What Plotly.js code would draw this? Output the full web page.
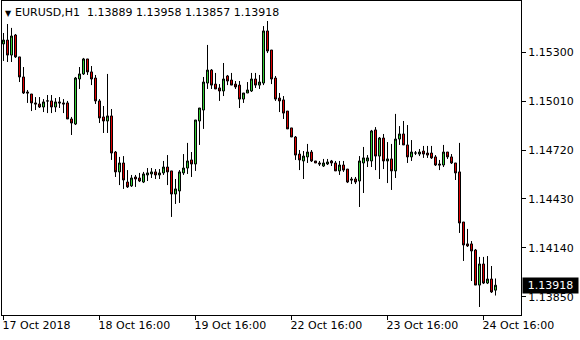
<!DOCTYPE html>
<html><head><meta charset="utf-8">
<script src="https://cdn.plot.ly/plotly-3.0.1.min.js"></script>
<style>html,body{margin:0;padding:0;background:#fff;} #chart{width:580px;height:340px;}</style>
</head><body><div id="chart"></div>
<script>
const symbol = 'EURUSD,H1';
const openP = [
1.15349,1.15372,1.15283,1.15402,1.15272,1.15153,1.15064,1.15052,1.14999,1.14993,
1.14975,1.15011,1.15011,1.14975,1.15005,1.14999,1.14999,1.14904,1.14874,1.15141,
1.15171,1.15260,1.15183,1.15147,1.15011,1.14916,1.14892,1.14922,1.14708,1.14590,
1.14643,1.14530,1.14507,1.14560,1.14554,1.14530,1.14572,1.14578,1.14590,1.14572,
1.14584,1.14619,1.14596,1.14459,1.14477,1.14584,1.14613,1.14661,1.14637,1.14892,
1.14957,1.15117,1.15194,1.15111,1.15088,1.15070,1.15159,1.15135,1.15111,1.15105,
1.15022,1.15058,1.15070,1.15141,1.15105,1.15117,1.15426,1.15313,1.15147,1.15028,
1.15017,1.14951,1.14851,1.14797,1.14696,1.14655,1.14679,1.14708,1.14655,1.14643,
1.14625,1.14637,1.14655,1.14643,1.14596,1.14631,1.14607,1.14548,1.14548,1.14536,
1.14643,1.14655,1.14655,1.14839,1.14684,1.14791,1.14655,1.14667,1.14596,1.14785,
1.14815,1.14750,1.14679,1.14702,1.14696,1.14714,1.14702,1.14702,1.14679,1.14637,
1.14631,1.14708,1.14679,1.14643,1.14590,1.14293,1.14163,1.14163,1.14127,1.13919,
1.14044,1.13931,1.13955,1.13889];
const highP = [
1.15414,1.15467,1.15444,1.15408,1.15272,1.15212,1.15076,1.15052,1.15034,1.15034,
1.15022,1.15046,1.15046,1.15028,1.15034,1.15022,1.15011,1.14916,1.15153,1.15212,
1.15266,1.15260,1.15218,1.15165,1.15022,1.14981,1.15171,1.14963,1.14714,1.14679,
1.14684,1.14601,1.14572,1.14572,1.14584,1.14590,1.14613,1.14613,1.14607,1.14607,
1.14655,1.14690,1.14596,1.14548,1.14601,1.14696,1.14762,1.14708,1.14898,1.14969,
1.15153,1.15343,1.15200,1.15177,1.15111,1.15236,1.15165,1.15177,1.15129,1.15129,
1.15058,1.15123,1.15177,1.15177,1.15165,1.15455,1.15485,1.15313,1.15159,1.15058,
1.15040,1.14951,1.14851,1.14803,1.14720,1.14714,1.14756,1.14720,1.14655,1.14655,
1.14667,1.14667,1.14661,1.14655,1.14655,1.14655,1.14607,1.14560,1.14560,1.14684,
1.14738,1.14690,1.14839,1.14856,1.14797,1.14815,1.14767,1.14756,1.14934,1.14862,
1.14892,1.14868,1.14779,1.14714,1.14726,1.14744,1.14744,1.14744,1.14690,1.14661,
1.14750,1.14708,1.14696,1.14643,1.14762,1.14293,1.14252,1.14180,1.14133,1.14086,
1.14086,1.14091,1.14032,1.13958];
const lowP = [
1.15248,1.15242,1.15242,1.15266,1.15123,1.15052,1.14999,1.14951,1.14957,1.14969,
1.14945,1.14939,1.14939,1.14945,1.14969,1.14939,1.14904,1.14809,1.14868,1.15082,
1.15165,1.15165,1.15105,1.14993,1.14880,1.14821,1.14821,1.14661,1.14560,1.14512,
1.14489,1.14495,1.14501,1.14501,1.14530,1.14524,1.14536,1.14554,1.14548,1.14548,
1.14572,1.14512,1.14323,1.14400,1.14406,1.14572,1.14578,1.14560,1.14596,1.14750,
1.14845,1.15082,1.15082,1.15082,1.15011,1.15040,1.15105,1.15105,1.15082,1.14969,
1.14999,1.15058,1.15064,1.15088,1.15082,1.15105,1.15295,1.15111,1.15011,1.14945,
1.14904,1.14845,1.14797,1.14661,1.14601,1.14548,1.14643,1.14649,1.14643,1.14625,
1.14619,1.14631,1.14625,1.14596,1.14572,1.14590,1.14524,1.14518,1.14518,1.14382,
1.14465,1.14619,1.14619,1.14601,1.14548,1.14607,1.14524,1.14483,1.14554,1.14750,
1.14750,1.14643,1.14655,1.14690,1.14684,1.14673,1.14673,1.14667,1.14625,1.14601,
1.14619,1.14667,1.14637,1.14542,1.14228,1.14062,1.14145,1.13943,1.13919,1.13789,
1.13925,1.13925,1.13872,1.13857];
const closeP = [
1.15372,1.15283,1.15396,1.15272,1.15153,1.15058,1.15058,1.14999,1.14993,1.14975,
1.15005,1.15011,1.14975,1.15005,1.14999,1.14993,1.14904,1.14880,1.15147,1.15171,
1.15260,1.15183,1.15141,1.15011,1.14910,1.14892,1.14922,1.14702,1.14590,1.14643,
1.14542,1.14501,1.14554,1.14548,1.14536,1.14578,1.14584,1.14590,1.14572,1.14584,
1.14619,1.14590,1.14459,1.14489,1.14590,1.14613,1.14655,1.14637,1.14898,1.14969,
1.15123,1.15194,1.15105,1.15082,1.15070,1.15141,1.15129,1.15105,1.15094,1.15022,
1.15058,1.15076,1.15141,1.15105,1.15123,1.15426,1.15307,1.15141,1.15022,1.15011,
1.14939,1.14845,1.14797,1.14690,1.14661,1.14684,1.14708,1.14655,1.14643,1.14637,
1.14643,1.14649,1.14643,1.14596,1.14631,1.14601,1.14530,1.14542,1.14530,1.14655,
1.14673,1.14673,1.14833,1.14684,1.14791,1.14655,1.14667,1.14596,1.14785,1.14815,
1.14750,1.14679,1.14708,1.14702,1.14708,1.14696,1.14690,1.14673,1.14631,1.14631,
1.14708,1.14679,1.14643,1.14584,1.14287,1.14157,1.14151,1.14121,1.13919,1.14044,
1.13931,1.13955,1.13878,1.13918];
const tickBars = [0, 24, 48, 72, 96, 120];
const tickLabels = ['17 Oct 2018','18 Oct 16:00','19 Oct 16:00','22 Oct 16:00','23 Oct 16:00','24 Oct 16:00'];
const priceTicks = [1.13850, 1.14140, 1.14430, 1.14720, 1.15010, 1.15300];

const bars = openP.map((_, i) => i);
const last = openP.length - 1;
const FONT = 'DejaVu Sans';

const trace = {
  type: 'candlestick',
  x: bars, open: openP, high: highP, low: lowP, close: closeP,
  increasing: {line: {color: '#000000', width: 1}, fillcolor: '#33cc33'},
  decreasing: {line: {color: '#000000', width: 1}, fillcolor: '#e00000'},
  whiskerwidth: 0,
  hoverinfo: 'none',
  showlegend: false
};

const layout = {
  width: 580, height: 340,
  margin: {l: 2, r: 59, t: 1, b: 25},
  paper_bgcolor: '#ffffff', plot_bgcolor: '#ffffff',
  font: {family: FONT, size: 11, color: '#000000'},
  showlegend: false,
  boxgap: 0.5, boxgroupgap: 0,
  xaxis: {
    type: 'linear', range: [-0.375, 129.375], fixedrange: true,
    rangeslider: {visible: false},
    showgrid: false, zeroline: false,
    showline: true, linecolor: '#000000', linewidth: 1, mirror: true,
    ticks: 'outside', ticklen: 4, tickcolor: '#000000', tickwidth: 1,
    tickmode: 'array', tickvals: tickBars, ticktext: tickLabels,
    ticklabelposition: 'outside right', ticklabelshift: -2,
    tickfont: {family: FONT, size: 11, color: '#000000'}
  },
  yaxis: {
    side: 'right', range: [1.137415, 1.156036], fixedrange: true,
    showgrid: false, zeroline: false,
    showline: true, linecolor: '#000000', linewidth: 1, mirror: true,
    ticks: 'outside', ticklen: 4, tickcolor: '#000000', tickwidth: 1,
    tickmode: 'array', tickvals: priceTicks,
    ticktext: priceTicks.map(v => v.toFixed(5)),
    tickfont: {family: FONT, size: 11, color: '#000000'}
  },
  annotations: [
    {xref: 'paper', yref: 'paper', x: 0, y: 1, xanchor: 'left', yanchor: 'top',
     xshift: 1, yshift: -6, showarrow: false, text: '▼',
     font: {family: FONT, size: 8, color: '#000000'}},
    {xref: 'paper', yref: 'paper', x: 0, y: 1, xanchor: 'left', yanchor: 'top',
     xshift: 11, yshift: -3, showarrow: false,
     text: symbol + '  ' + [openP[last], highP[last], lowP[last], closeP[last]].map(v => v.toFixed(5)).join(' '),
     font: {family: FONT, size: 11, color: '#000000'}},
    {xref: 'paper', yref: 'y', x: 1, y: closeP[last], xanchor: 'left', yanchor: 'middle',
     xshift: 1, showarrow: false, text: closeP[last].toFixed(5),
     bgcolor: '#000000', borderpad: 1, width: 53, height: 13,
     font: {family: FONT, size: 11, color: '#ffffff'}}
  ]
};

Plotly.newPlot('chart', [trace], layout, {staticPlot: true, displayModeBar: false});
</script>
</body></html>
